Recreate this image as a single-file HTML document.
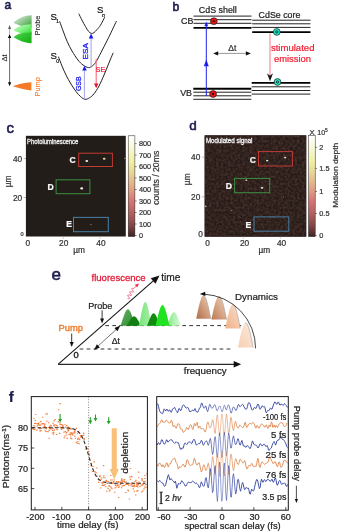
<!DOCTYPE html>
<html><head><meta charset="utf-8"><style>
html,body{margin:0;padding:0;background:#fff;width:342px;height:531px;overflow:hidden}
svg{display:block;font-family:"Liberation Sans", sans-serif;will-change:transform}
</style></head><body>
<svg width="342" height="531" viewBox="0 0 342 531">
<rect width="342" height="531" fill="#fff"/>
<defs>
<linearGradient id="cb" x1="0" y1="0" x2="0" y2="1"><stop offset="0.00" stop-color="#ffffff"/><stop offset="0.05" stop-color="#fcfcef"/><stop offset="0.10" stop-color="#f9f9df"/><stop offset="0.15" stop-color="#f6f6ce"/><stop offset="0.20" stop-color="#f3f3bb"/><stop offset="0.25" stop-color="#f1f1a7"/><stop offset="0.30" stop-color="#ede6a0"/><stop offset="0.35" stop-color="#ead99a"/><stop offset="0.40" stop-color="#e6cb94"/><stop offset="0.45" stop-color="#e3bc8e"/><stop offset="0.50" stop-color="#e0ac88"/><stop offset="0.55" stop-color="#dc9b82"/><stop offset="0.60" stop-color="#d9887b"/><stop offset="0.65" stop-color="#d57474"/><stop offset="0.70" stop-color="#c66c6c"/><stop offset="0.75" stop-color="#b76464"/><stop offset="0.80" stop-color="#a65a5a"/><stop offset="0.85" stop-color="#935050"/><stop offset="0.90" stop-color="#7d4444"/><stop offset="0.95" stop-color="#623535"/><stop offset="1.00" stop-color="#3c2121"/></linearGradient>
<linearGradient id="g1" x1="0" y1="0" x2="1" y2="1"><stop offset="0" stop-color="#e8f4e8"/><stop offset="0.6" stop-color="#7fbf7f"/><stop offset="1" stop-color="#2f9f2f"/></linearGradient>
<linearGradient id="g2" x1="0" y1="0" x2="1" y2="1"><stop offset="0" stop-color="#d8fcd8"/><stop offset="0.5" stop-color="#80f080"/><stop offset="1" stop-color="#22dd22"/></linearGradient>
<linearGradient id="g3" x1="0" y1="0" x2="1" y2="1"><stop offset="0" stop-color="#50d050"/><stop offset="1" stop-color="#10b010"/></linearGradient>
<linearGradient id="pump" x1="0" y1="0" x2="1" y2="0"><stop offset="0" stop-color="#f58030"/><stop offset="1" stop-color="#f07020"/></linearGradient>
<linearGradient id="br1" x1="0" y1="0" x2="1" y2="0"><stop offset="0" stop-color="#b8704a"/><stop offset="1" stop-color="#e8c0a8"/></linearGradient>
<linearGradient id="br2" x1="0" y1="0" x2="1" y2="0"><stop offset="0" stop-color="#c88060"/><stop offset="1" stop-color="#f0cdb8"/></linearGradient>
<linearGradient id="br3" x1="0" y1="0" x2="1" y2="0"><stop offset="0" stop-color="#eea884"/><stop offset="1" stop-color="#fbe0d0"/></linearGradient>
<linearGradient id="br4" x1="0" y1="0" x2="1" y2="0"><stop offset="0" stop-color="#f4c8ac"/><stop offset="1" stop-color="#fce8dc"/></linearGradient>
<filter id="noise" x="0" y="0" width="100%" height="100%" color-interpolation-filters="sRGB"><feTurbulence type="fractalNoise" baseFrequency="0.42" numOctaves="2" seed="3" result="t"/><feColorMatrix type="matrix" values="0 0 0 0 0.33  0 0 0 0 0.215  0 0 0 0 0.19  0 0 0 1.6 -0.5"/><feComposite in2="SourceGraphic" operator="in"/></filter>
</defs>
<text x="4.6" y="8.7" font-size="12.0" fill="#1b1b4d" text-anchor="start" font-weight="normal" stroke="#1b1b4d" stroke-width="0.6"  style="">a</text>
<path d="M31.6,15.3 C22.6,15.8 17.5,18.8 13.5,22.8 C18.5,25.3 23.6,27.5 31.6,27.5 Z" fill="url(#g1)"/>
<path d="M31.6,24.2 C22.6,24.7 17.5,26.2 13.5,30.2 C18.5,32.7 23.6,35.0 31.6,35.0 Z" fill="url(#g2)"/>
<path d="M31.6,32.2 C22.6,32.7 17.5,33.3 13.5,37.3 C18.5,39.8 23.6,43.2 31.6,43.2 Z" fill="url(#g3)"/>
<path d="M31.4,82.3 C24,82.6 17,84.5 12.9,86.3 C18,88 25,89.6 31.4,90.6 Z" fill="#f47a28"/>
<line x1="9.6" y1="27" x2="9.6" y2="34" stroke="#999" stroke-width="0.8" />
<line x1="9.6" y1="36" x2="9.6" y2="84" stroke="#444" stroke-width="0.8" />
<path d="M9.60,25.00 L11.20,29.00 L8.00,29.00 Z" fill="#666"/>
<path d="M9.60,34.00 L11.20,38.00 L8.00,38.00 Z" fill="#000"/>
<path d="M9.60,86.20 L8.00,82.20 L11.20,82.20 Z" fill="#000"/>
<text transform="translate(6.9,58.0) rotate(-90)" font-size="7.6" fill="#2a2a2a" text-anchor="middle" font-weight="normal" stroke="#2a2a2a" stroke-width="0.1" >Δt</text>
<text transform="translate(40.0,25.5) rotate(-90)" font-size="7.4" fill="#2a2a2a" text-anchor="middle" font-weight="normal" stroke="#2a2a2a" stroke-width="0.12" >Probe</text>
<text transform="translate(40.1,86.8) rotate(-90)" font-size="7.3" fill="#f47a28" text-anchor="middle" font-weight="normal" stroke="#f47a28" stroke-width="0.08" >Pump</text>
<path d="M59.60,21.40 C60.25,23.17 62.23,28.65 63.50,32.00 C64.77,35.35 65.78,38.33 67.20,41.50 C68.62,44.67 70.20,47.92 72.00,51.00 C73.80,54.08 76.17,57.67 78.00,60.00 C79.83,62.33 81.27,63.73 83.00,65.00 C84.73,66.27 86.90,67.40 88.40,67.60 C89.90,67.80 90.78,67.08 92.00,66.20 C93.22,65.32 94.20,64.58 95.70,62.30 C97.20,60.02 99.05,56.22 101.00,52.50 C102.95,48.78 105.57,43.67 107.40,40.00 C109.23,36.33 110.48,33.67 112.00,30.50 C113.52,27.33 115.75,22.58 116.50,21.00" fill="none" stroke="#222" stroke-width="1"/>
<path d="M58.40,56.60 C59.00,58.17 60.73,62.93 62.00,66.00 C63.27,69.07 64.50,72.00 66.00,75.00 C67.50,78.00 69.33,81.25 71.00,84.00 C72.67,86.75 74.42,89.42 76.00,91.50 C77.58,93.58 79.00,95.20 80.50,96.50 C82.00,97.80 83.50,99.08 85.00,99.30 C86.50,99.52 88.00,98.72 89.50,97.80 C91.00,96.88 92.42,95.77 94.00,93.80 C95.58,91.83 97.33,89.13 99.00,86.00 C100.67,82.87 102.42,78.67 104.00,75.00 C105.58,71.33 106.97,67.70 108.50,64.00 C110.03,60.30 112.42,54.67 113.20,52.80" fill="none" stroke="#222" stroke-width="1"/>
<path d="M78.80,13.70 C79.33,14.78 80.88,18.05 82.00,20.20 C83.12,22.35 84.42,24.75 85.50,26.60 C86.58,28.45 87.53,30.17 88.50,31.30 C89.47,32.43 90.38,33.18 91.30,33.40 C92.22,33.62 93.05,33.25 94.00,32.60 C94.95,31.95 95.92,30.73 97.00,29.50 C98.08,28.27 99.22,27.25 100.50,25.20 C101.78,23.15 104.00,18.53 104.70,17.20" fill="none" stroke="#222" stroke-width="1"/>
<text x="50.6" y="19.6" font-size="9.6" fill="#111" text-anchor="start" font-weight="normal" stroke="#111" stroke-width="0.22"  style="">S</text>
<text x="56.3" y="23.4" font-size="4.6" fill="#111" text-anchor="start" font-weight="normal" stroke="#111" stroke-width="0.22"  style="">1</text>
<text x="50.6" y="59.0" font-size="9.6" fill="#111" text-anchor="start" font-weight="normal" stroke="#111" stroke-width="0.22"  style="">S</text>
<text x="56.2" y="62.6" font-size="5" fill="#111" text-anchor="start" font-weight="normal" stroke="#111" stroke-width="0.22"  style="">0</text>
<text x="96.9" y="13.3" font-size="9.6" fill="#111" text-anchor="start" font-weight="normal" stroke="#111" stroke-width="0.22"  style="">S</text>
<text x="102" y="17.2" font-size="5.2" fill="#111" text-anchor="start" font-weight="normal" stroke="#111" stroke-width="0.22"  style="font-style:italic">n</text>
<line x1="84.4" y1="99.2" x2="84.4" y2="69" stroke="#a8a8f0" stroke-width="1.1" />
<path d="M84.50,65.80 L86.80,70.60 L82.20,70.60 Z" fill="#1a1ae6"/>
<line x1="91.1" y1="67.4" x2="91.1" y2="37" stroke="#a8a8f0" stroke-width="1.1" />
<path d="M91.10,33.60 L93.40,38.40 L88.80,38.40 Z" fill="#1a1ae6"/>
<line x1="96.2" y1="59" x2="96.2" y2="84" stroke="#f07080" stroke-width="1.1" />
<path d="M96.20,88.20 L94.00,83.40 L98.40,83.40 Z" fill="#e8102a"/>
<text transform="translate(78.9,83.8) rotate(-90)" font-size="7.0" fill="#2626f2" text-anchor="middle" font-weight="normal" stroke="#2626f2" stroke-width="0.3" dominant-baseline="middle" textLength="14.6" lengthAdjust="spacingAndGlyphs">GSB</text>
<text transform="translate(86.2,51.3) rotate(-90)" font-size="7.0" fill="#2626f2" text-anchor="middle" font-weight="normal" stroke="#2626f2" stroke-width="0.3" dominant-baseline="middle" textLength="16.2" lengthAdjust="spacingAndGlyphs">ESA</text>
<text x="95.6" y="71.5" font-size="7.3" fill="#f01e3c" text-anchor="start" font-weight="normal" stroke="#f01e3c" stroke-width="0.22"  style="">SE</text>
<text x="172.4" y="10.8" font-size="12.2" fill="#1b1b4d" text-anchor="start" font-weight="normal" stroke="#1b1b4d" stroke-width="0.6"  style="">b</text>
<text x="198.8" y="13.2" font-size="8.9" fill="#222" text-anchor="start" font-weight="normal" stroke="#222" stroke-width="0.22"  style="">CdS shell</text>
<text x="258.6" y="18.3" font-size="8.85" fill="#222" text-anchor="start" font-weight="normal" stroke="#222" stroke-width="0.22"  style="">CdSe core</text>
<line x1="193.5" y1="16.1" x2="251.5" y2="16.1" stroke="#222" stroke-width="1.0" />
<line x1="193.5" y1="19.7" x2="251.5" y2="19.7" stroke="#222" stroke-width="1.0" />
<line x1="193.5" y1="23.3" x2="251.5" y2="23.3" stroke="#222" stroke-width="1.0" />
<line x1="193.5" y1="27.9" x2="251.5" y2="27.9" stroke="#000" stroke-width="1.9" />
<line x1="252.2" y1="20.2" x2="310.5" y2="20.2" stroke="#222" stroke-width="1.0" />
<line x1="252.2" y1="23.8" x2="310.5" y2="23.8" stroke="#222" stroke-width="1.0" />
<line x1="252.2" y1="27.4" x2="310.5" y2="27.4" stroke="#222" stroke-width="1.0" />
<line x1="252.2" y1="32.1" x2="310.5" y2="32.1" stroke="#000" stroke-width="1.9" />
<text x="193.4" y="23.7" font-size="8.9" fill="#222" text-anchor="end" font-weight="normal" stroke="#222" stroke-width="0.22"  style="">CB</text>
<text x="192.0" y="96.0" font-size="8.9" fill="#222" text-anchor="end" font-weight="normal" stroke="#222" stroke-width="0.22"  style="">VB</text>
<line x1="193.3" y1="88.8" x2="251.3" y2="88.8" stroke="#000" stroke-width="1.9" />
<line x1="193.3" y1="92.2" x2="251.3" y2="92.2" stroke="#222" stroke-width="1.0" />
<line x1="193.3" y1="95.8" x2="251.3" y2="95.8" stroke="#222" stroke-width="1.0" />
<line x1="193.3" y1="99.3" x2="251.3" y2="99.3" stroke="#222" stroke-width="1.0" />
<line x1="251.7" y1="82.9" x2="310.3" y2="82.9" stroke="#000" stroke-width="1.9" />
<line x1="251.7" y1="86.8" x2="310.3" y2="86.8" stroke="#222" stroke-width="1.0" />
<line x1="251.7" y1="90.5" x2="310.3" y2="90.5" stroke="#222" stroke-width="1.0" />
<line x1="251.7" y1="94.1" x2="310.3" y2="94.1" stroke="#222" stroke-width="1.0" />
<line x1="206.3" y1="96" x2="206.3" y2="25" stroke="#2020ee" stroke-width="1.0" />
<path d="M206.30,21.50 L208.20,26.30 L204.40,26.30 Z" fill="#2020ee"/>
<path d="M206.30,59.60 L208.80,66.20 L203.80,66.20 Z" fill="#2020ee"/>
<circle cx="213.8" cy="21.2" r="3.4" fill="#ee1111" stroke="#222" stroke-width="0.7"/>
<ellipse cx="213.8" cy="21.2" rx="1.5" ry="0.8" fill="#111"/>
<circle cx="213.1" cy="94.0" r="3.4" fill="#ee1111" stroke="#222" stroke-width="0.7"/>
<circle cx="213.1" cy="94.0" r="1.1" fill="#111"/>
<circle cx="276.8" cy="31.9" r="3.4" fill="#22e8c8" stroke="#222" stroke-width="0.7"/>
<circle cx="276.8" cy="31.9" r="1.15" fill="none" stroke="#111" stroke-width="0.75"/>
<circle cx="277.5" cy="82.0" r="3.4" fill="#22e8c8" stroke="#222" stroke-width="0.7"/>
<circle cx="277.5" cy="82.0" r="1.15" fill="none" stroke="#111" stroke-width="0.75"/>
<line x1="216" y1="53.4" x2="248" y2="53.4" stroke="#999" stroke-width="1.0" />
<path d="M213.20,53.40 L218.20,51.20 L218.20,55.60 Z" fill="#111"/>
<path d="M250.90,53.40 L245.90,55.60 L245.90,51.20 Z" fill="#111"/>
<text x="228.2" y="50.8" font-size="8.6" fill="#333" text-anchor="start" font-weight="normal" stroke="#333" stroke-width="0.22"  style="">Δt</text>
<line x1="270.0" y1="33.5" x2="270.0" y2="76" stroke="#f7a0a8" stroke-width="1.4" />
<path d="M270.00,81.30 L267.00,73.30 L270.00,75.86 L273.00,73.30 Z" fill="#111"/>
<text x="292.7" y="51.0" font-size="9.55" fill="#f01e32" text-anchor="middle" font-weight="normal" stroke="#f01e32" stroke-width="0.22"  style="">stimulated</text>
<text x="292.5" y="61.5" font-size="9.4" fill="#f01e32" text-anchor="middle" font-weight="normal" stroke="#f01e32" stroke-width="0.22"  style="">emission</text>
<rect x="25.9" y="135.8" width="99.9" height="100.69999999999999" fill="#231d19"/>
<text x="27.099999999999998" y="143.60000000000002" font-size="6.3" fill="#f0f0f0" text-anchor="start" font-weight="normal" stroke="#f0f0f0" stroke-width="0.3" textLength="51.2" lengthAdjust="spacingAndGlyphs" style="">Photoluminescence</text>
<rect x="78.7" y="153.2" width="33.7" height="13.300000000000011" fill="none" stroke="#c23b33" stroke-width="1"/>
<rect x="56.1" y="179.8" width="33.800000000000004" height="13.899999999999977" fill="none" stroke="#3b8f3f" stroke-width="1"/>
<rect x="73.5" y="217.4" width="34.8" height="14.299999999999983" fill="none" stroke="#4a7fa6" stroke-width="1"/>
<text x="69.4" y="163.4" font-size="8.6" fill="#fafafa" text-anchor="start" font-weight="bold" stroke="#fafafa" stroke-width="0.22"  style="">C</text>
<text x="47.4" y="190.3" font-size="8.6" fill="#fafafa" text-anchor="start" font-weight="bold" stroke="#fafafa" stroke-width="0.22"  style="">D</text>
<text x="66.2" y="227.2" font-size="8.6" fill="#fafafa" text-anchor="start" font-weight="bold" stroke="#fafafa" stroke-width="0.22"  style="">E</text>
<ellipse cx="86.8" cy="161" rx="1.4" ry="0.9799999999999999" fill="#fbeee0"/>
<ellipse cx="104.2" cy="158.7" rx="1.4" ry="0.9799999999999999" fill="#f3d2b0"/>
<ellipse cx="81.7" cy="188.4" rx="1.5" ry="1.0499999999999998" fill="#fbf2e8"/>
<ellipse cx="90.9" cy="224.6" rx="0.8" ry="0.5599999999999999" fill="#b06060"/>
<ellipse cx="124.8" cy="158.2" rx="0.8" ry="0.5599999999999999" fill="#c09080"/>
<rect x="128.2" y="135.8" width="6.7" height="100.69999999999999" fill="url(#cb)" stroke="#222" stroke-width="0.5"/>
<line x1="134.89999999999998" y1="235.5" x2="136.7" y2="235.5" stroke="#333" stroke-width="0.6" />
<text x="139.0" y="238.1" font-size="7.3" fill="#333" text-anchor="start" font-weight="normal" stroke="#333" stroke-width="0.22"  style="">0</text>
<line x1="134.89999999999998" y1="224.0" x2="136.7" y2="224.0" stroke="#333" stroke-width="0.6" />
<text x="139.0" y="226.6" font-size="7.3" fill="#333" text-anchor="start" font-weight="normal" stroke="#333" stroke-width="0.22"  style="">100</text>
<line x1="134.89999999999998" y1="212.5" x2="136.7" y2="212.5" stroke="#333" stroke-width="0.6" />
<text x="139.0" y="215.1" font-size="7.3" fill="#333" text-anchor="start" font-weight="normal" stroke="#333" stroke-width="0.22"  style="">200</text>
<line x1="134.89999999999998" y1="201.0" x2="136.7" y2="201.0" stroke="#333" stroke-width="0.6" />
<text x="139.0" y="203.6" font-size="7.3" fill="#333" text-anchor="start" font-weight="normal" stroke="#333" stroke-width="0.22"  style="">300</text>
<line x1="134.89999999999998" y1="189.5" x2="136.7" y2="189.5" stroke="#333" stroke-width="0.6" />
<text x="139.0" y="192.1" font-size="7.3" fill="#333" text-anchor="start" font-weight="normal" stroke="#333" stroke-width="0.22"  style="">400</text>
<line x1="134.89999999999998" y1="178.0" x2="136.7" y2="178.0" stroke="#333" stroke-width="0.6" />
<text x="139.0" y="180.6" font-size="7.3" fill="#333" text-anchor="start" font-weight="normal" stroke="#333" stroke-width="0.22"  style="">500</text>
<line x1="134.89999999999998" y1="166.6" x2="136.7" y2="166.6" stroke="#333" stroke-width="0.6" />
<text x="139.0" y="169.2" font-size="7.3" fill="#333" text-anchor="start" font-weight="normal" stroke="#333" stroke-width="0.22"  style="">600</text>
<line x1="134.89999999999998" y1="155.1" x2="136.7" y2="155.1" stroke="#333" stroke-width="0.6" />
<text x="139.0" y="157.7" font-size="7.3" fill="#333" text-anchor="start" font-weight="normal" stroke="#333" stroke-width="0.22"  style="">700</text>
<line x1="134.89999999999998" y1="143.6" x2="136.7" y2="143.6" stroke="#333" stroke-width="0.6" />
<text x="139.0" y="146.2" font-size="7.3" fill="#333" text-anchor="start" font-weight="normal" stroke="#333" stroke-width="0.22"  style="">800</text>
<text x="6.6" y="132.6" font-size="15" fill="#1b1b4d" text-anchor="start" font-weight="normal" stroke="#1b1b4d" stroke-width="0.6"  style="">c</text>
<text x="22.2" y="161.5" font-size="8.3" fill="#333" text-anchor="end" font-weight="normal" stroke="#333" stroke-width="0.22"  style="">40</text>
<text x="22.2" y="200.5" font-size="8.3" fill="#333" text-anchor="end" font-weight="normal" stroke="#333" stroke-width="0.22"  style="">20</text>
<text x="23.6" y="236.3" font-size="5.6" fill="#333" text-anchor="end" font-weight="normal" stroke="#333" stroke-width="0.22"  style="">0</text>
<line x1="23.6" y1="158.6" x2="26" y2="158.6" stroke="#888" stroke-width="0.6" />
<line x1="23.6" y1="197.5" x2="26" y2="197.5" stroke="#888" stroke-width="0.6" />
<line x1="63.3" y1="236.5" x2="63.3" y2="238.8" stroke="#aaa" stroke-width="0.6" />
<line x1="100.1" y1="236.5" x2="100.1" y2="238.8" stroke="#aaa" stroke-width="0.6" />
<text x="27.7" y="245.5" font-size="8.3" fill="#333" text-anchor="middle" font-weight="normal" stroke="#333" stroke-width="0.22"  style="">0</text>
<text x="63.7" y="245.5" font-size="8.3" fill="#333" text-anchor="middle" font-weight="normal" stroke="#333" stroke-width="0.22"  style="">20</text>
<text x="100.9" y="245.5" font-size="8.3" fill="#333" text-anchor="middle" font-weight="normal" stroke="#333" stroke-width="0.22"  style="">40</text>
<text transform="translate(10.5,181.4) rotate(-90)" font-size="8.3" fill="#333" text-anchor="middle" font-weight="normal" stroke="#333" stroke-width="0.22" >µm</text>
<text x="79.2" y="252.6" font-size="8.3" fill="#333" text-anchor="middle" font-weight="normal" stroke="#333" stroke-width="0.22"  style="">µm</text>
<text transform="translate(159.0,177.8) rotate(-90)" font-size="8.7" fill="#333" text-anchor="middle" font-weight="normal" stroke="#333" stroke-width="0.22" >counts / 20ms</text>
<rect x="204.7" y="135.4" width="101.5" height="101.19999999999999" fill="#231d19"/>
<rect x="204.7" y="135.4" width="101.5" height="101.19999999999999" fill="#241b18"/>
<rect x="204.7" y="135.4" width="101.5" height="101.19999999999999" fill="#fff" filter="url(#noise)"/>
<text x="205.89999999999998" y="143.20000000000002" font-size="6.3" fill="#f0f0f0" text-anchor="start" font-weight="normal" stroke="#f0f0f0" stroke-width="0.3" textLength="46.6" lengthAdjust="spacingAndGlyphs" style="">Modulated signal</text>
<rect x="258.5" y="151.6" width="33.89999999999998" height="14.400000000000006" fill="none" stroke="#c23b33" stroke-width="1"/>
<rect x="234.6" y="178.4" width="35.099999999999994" height="14.299999999999983" fill="none" stroke="#3b8f3f" stroke-width="1"/>
<rect x="254" y="216.9" width="34.80000000000001" height="14.299999999999983" fill="none" stroke="#4a7fa6" stroke-width="1"/>
<text x="249.8" y="162.8" font-size="8.6" fill="#fafafa" text-anchor="start" font-weight="bold" stroke="#fafafa" stroke-width="0.22"  style="">C</text>
<text x="225.7" y="189.2" font-size="8.6" fill="#fafafa" text-anchor="start" font-weight="bold" stroke="#fafafa" stroke-width="0.22"  style="">D</text>
<text x="245.6" y="227.6" font-size="8.6" fill="#fafafa" text-anchor="start" font-weight="bold" stroke="#fafafa" stroke-width="0.22"  style="">E</text>
<ellipse cx="267.2" cy="160.5" rx="1.2" ry="0.84" fill="#fbe8d8"/>
<ellipse cx="285.2" cy="157.6" rx="1.2" ry="0.84" fill="#f3d8b8"/>
<ellipse cx="246.3" cy="180.3" rx="1.0" ry="0.7" fill="#f0d8c8"/>
<ellipse cx="262" cy="187.8" rx="1.3" ry="0.9099999999999999" fill="#fbeee0"/>
<ellipse cx="205.8" cy="206.2" rx="0.9" ry="0.63" fill="#e8d0c0"/>
<ellipse cx="231.4" cy="210.3" rx="0.7" ry="0.48999999999999994" fill="#c09080"/>
<ellipse cx="283.5" cy="197.1" rx="0.7" ry="0.48999999999999994" fill="#b08070"/>
<rect x="308.5" y="135.4" width="6.7" height="101.19999999999999" fill="url(#cb)" stroke="#222" stroke-width="0.5"/>
<line x1="315.2" y1="235.6" x2="317.0" y2="235.6" stroke="#333" stroke-width="0.6" />
<text x="319.3" y="238.2" font-size="7.3" fill="#333" text-anchor="start" font-weight="normal" stroke="#333" stroke-width="0.22"  style="">0</text>
<line x1="315.2" y1="213.5" x2="317.0" y2="213.5" stroke="#333" stroke-width="0.6" />
<text x="319.3" y="216.1" font-size="7.3" fill="#333" text-anchor="start" font-weight="normal" stroke="#333" stroke-width="0.22"  style="">0.5</text>
<line x1="315.2" y1="191.5" x2="317.0" y2="191.5" stroke="#333" stroke-width="0.6" />
<text x="319.3" y="194.1" font-size="7.3" fill="#333" text-anchor="start" font-weight="normal" stroke="#333" stroke-width="0.22"  style="">1</text>
<line x1="315.2" y1="168.4" x2="317.0" y2="168.4" stroke="#333" stroke-width="0.6" />
<text x="319.3" y="171.0" font-size="7.3" fill="#333" text-anchor="start" font-weight="normal" stroke="#333" stroke-width="0.22"  style="">1.5</text>
<line x1="315.2" y1="147.3" x2="317.0" y2="147.3" stroke="#333" stroke-width="0.6" />
<text x="319.3" y="149.9" font-size="7.3" fill="#333" text-anchor="start" font-weight="normal" stroke="#333" stroke-width="0.22"  style="">2</text>
<text x="189.2" y="130.0" font-size="13.5" fill="#1b1b4d" text-anchor="start" font-weight="normal" stroke="#1b1b4d" stroke-width="0.55"  style="">d</text>
<text x="200.3" y="160.2" font-size="8.3" fill="#333" text-anchor="end" font-weight="normal" stroke="#333" stroke-width="0.22"  style="">40</text>
<text x="200.3" y="199.8" font-size="8.3" fill="#333" text-anchor="end" font-weight="normal" stroke="#333" stroke-width="0.22"  style="">20</text>
<text x="202.8" y="237.2" font-size="8.3" fill="#333" text-anchor="end" font-weight="normal" stroke="#333" stroke-width="0.22"  style="">0</text>
<line x1="202" y1="157.2" x2="204.6" y2="157.2" stroke="#888" stroke-width="0.6" />
<line x1="202" y1="196.8" x2="204.6" y2="196.8" stroke="#888" stroke-width="0.6" />
<line x1="243.3" y1="236.6" x2="243.3" y2="238.8" stroke="#aaa" stroke-width="0.6" />
<line x1="280.3" y1="236.6" x2="280.3" y2="238.8" stroke="#aaa" stroke-width="0.6" />
<text x="207.6" y="245.5" font-size="8.3" fill="#333" text-anchor="middle" font-weight="normal" stroke="#333" stroke-width="0.22"  style="">0</text>
<text x="244.5" y="245.5" font-size="8.3" fill="#333" text-anchor="middle" font-weight="normal" stroke="#333" stroke-width="0.22"  style="">20</text>
<text x="281.5" y="245.5" font-size="8.3" fill="#333" text-anchor="middle" font-weight="normal" stroke="#333" stroke-width="0.22"  style="">40</text>
<text transform="translate(189.5,179.3) rotate(-90)" font-size="8.3" fill="#333" text-anchor="middle" font-weight="normal" stroke="#333" stroke-width="0.22" >µm</text>
<text x="264.4" y="252.6" font-size="8.3" fill="#333" text-anchor="middle" font-weight="normal" stroke="#333" stroke-width="0.22"  style="">µm</text>
<text x="309.6" y="135.0" font-size="7.6" fill="#333" text-anchor="start" font-weight="normal" stroke="#333" stroke-width="0.22"  style="">X</text>
<text x="317.3" y="135.0" font-size="7.0" fill="#333" text-anchor="start" font-weight="normal" stroke="#333" stroke-width="0.22"  style="">10</text>
<text x="325.0" y="132.0" font-size="4.8" fill="#333" text-anchor="start" font-weight="normal" stroke="#333" stroke-width="0.22"  style="">5</text>
<text transform="translate(338.2,175.3) rotate(-90)" font-size="7.8" fill="#333" text-anchor="middle" font-weight="normal" stroke="#333" stroke-width="0.22" textLength="65" lengthAdjust="spacingAndGlyphs">Modulation depth</text>
<text x="51.5" y="279.9" font-size="17" fill="#1b1b4d" text-anchor="start" font-weight="normal" stroke="#1b1b4d" stroke-width="0.6"  style="">e</text>
<line x1="105.3" y1="325.6" x2="241.2" y2="325.6" stroke="#333" stroke-width="1.0" stroke-dasharray="3.7,3.3"/>
<line x1="79.6" y1="349.0" x2="232" y2="349.0" stroke="#333" stroke-width="1.0" stroke-dasharray="3.7,3.3"/>
<linearGradient id="gp1" x1="0" y1="0" x2="1" y2="1"><stop offset="0" stop-color="#62b262"/><stop offset="1" stop-color="#2a8a2a"/></linearGradient>
<linearGradient id="gp3" x1="0" y1="0" x2="1" y2="0"><stop offset="0" stop-color="#78e478"/><stop offset="1" stop-color="#a8f0a8"/></linearGradient>
<linearGradient id="gp6" x1="0" y1="0" x2="1" y2="0"><stop offset="0" stop-color="#7ee87e"/><stop offset="1" stop-color="#e0fae0"/></linearGradient>
<path d="M120.30,325.80 L120.93,324.51 L121.57,322.75 L122.20,320.83 L122.83,318.86 L123.47,316.93 L124.10,315.10 L124.73,313.45 L125.37,312.02 L126.00,310.85 L126.63,310.00 L127.27,309.48 L127.90,309.30 L128.53,309.48 L129.17,310.00 L129.80,310.85 L130.43,312.02 L131.07,313.45 L131.70,315.10 L132.33,316.93 L132.97,318.86 L133.60,320.83 L134.23,322.75 L134.87,324.51 L135.50,325.80 Z" fill="url(#gp1)" stroke="none" stroke-width="0"/>
<path d="M126.60,325.80 L127.22,325.05 L127.83,324.05 L128.45,322.94 L129.07,321.81 L129.68,320.69 L130.30,319.64 L130.92,318.69 L131.53,317.86 L132.15,317.20 L132.77,316.70 L133.38,316.40 L134.00,316.30 L134.62,316.40 L135.23,316.70 L135.85,317.20 L136.47,317.86 L137.08,318.69 L137.70,319.64 L138.32,320.69 L138.93,321.81 L139.55,322.94 L140.17,324.05 L140.78,325.05 L141.40,325.80 Z" fill="#127f12" stroke="none" stroke-width="0"/>
<path d="M138.70,325.80 L139.25,323.93 L139.80,321.41 L140.35,318.64 L140.90,315.79 L141.45,313.00 L142.00,310.37 L142.55,307.98 L143.10,305.92 L143.65,304.24 L144.20,303.01 L144.75,302.25 L145.30,302.00 L145.85,302.25 L146.40,303.01 L146.95,304.24 L147.50,305.92 L148.05,307.98 L148.60,310.37 L149.15,313.00 L149.70,315.79 L150.25,318.64 L150.80,321.41 L151.35,323.93 L151.90,325.80 Z" fill="url(#gp3)" stroke="none" stroke-width="0"/>
<path d="M146.80,325.80 L147.37,324.82 L147.93,323.49 L148.50,322.04 L149.07,320.54 L149.63,319.08 L150.20,317.69 L150.77,316.44 L151.33,315.36 L151.90,314.48 L152.47,313.83 L153.03,313.43 L153.60,313.30 L154.17,313.43 L154.73,313.83 L155.30,314.48 L155.87,315.36 L156.43,316.44 L157.00,317.69 L157.57,319.08 L158.13,320.54 L158.70,322.04 L159.27,323.49 L159.83,324.82 L160.40,325.80 Z" fill="#0f8c0f" stroke="none" stroke-width="0"/>
<path d="M166.60,325.80 L167.22,324.74 L167.83,323.31 L168.45,321.74 L169.07,320.12 L169.68,318.54 L170.30,317.05 L170.92,315.69 L171.53,314.52 L172.15,313.57 L172.77,312.87 L173.38,312.44 L174.00,312.30 L174.62,312.44 L175.23,312.87 L175.85,313.57 L176.47,314.52 L177.08,315.69 L177.70,317.05 L178.32,318.54 L178.93,320.12 L179.55,321.74 L180.17,323.31 L180.78,324.74 L181.40,325.80 Z" fill="url(#gp6)" stroke="none" stroke-width="0"/>
<path d="M155.20,325.80 L155.81,324.17 L156.42,321.96 L157.02,319.54 L157.63,317.05 L158.24,314.62 L158.85,312.31 L159.46,310.23 L160.07,308.42 L160.67,306.96 L161.28,305.88 L161.89,305.22 L162.50,305.00 L163.11,305.22 L163.72,305.88 L164.32,306.96 L164.93,308.42 L165.54,310.23 L166.15,312.31 L166.76,314.62 L167.37,317.05 L167.97,319.54 L168.58,321.96 L169.19,324.17 L169.80,325.80 Z" fill="#22e322" stroke="none" stroke-width="0"/>
<linearGradient id="bp1" x1="0" y1="1" x2="1" y2="0"><stop offset="0" stop-color="#b06c46"/><stop offset="1" stop-color="#f0d0b8"/></linearGradient>
<linearGradient id="bp2" x1="0" y1="1" x2="1" y2="0"><stop offset="0" stop-color="#bc7852"/><stop offset="1" stop-color="#f3d6c2"/></linearGradient>
<linearGradient id="bp3" x1="0" y1="1" x2="1" y2="0"><stop offset="0" stop-color="#f0b088"/><stop offset="1" stop-color="#fbe0cc"/></linearGradient>
<linearGradient id="bp4" x1="0" y1="1" x2="1" y2="0"><stop offset="0" stop-color="#f6cfb4"/><stop offset="1" stop-color="#fdeadc"/></linearGradient>
<path d="M196.20,318.80 L196.81,315.77 L197.42,312.80 L198.02,309.92 L198.63,307.20 L199.24,304.68 L199.85,302.40 L200.46,300.39 L201.07,298.71 L201.67,297.37 L202.28,296.39 L202.89,295.80 L203.50,295.60 L204.11,295.80 L204.72,296.39 L205.32,297.37 L205.93,298.71 L206.54,300.39 L207.15,302.40 L207.76,304.68 L208.37,307.20 L208.97,309.92 L209.58,312.80 L210.19,315.77 L210.80,318.80 Z" fill="url(#bp1)"/>
<path d="M202.89,295.80 L203.50,295.60 L204.11,295.80 L204.72,296.39 L205.32,297.37 L205.93,298.71 L206.54,300.39 L207.15,302.40 L207.76,304.68 L208.37,307.20 L208.97,309.92 L209.58,312.80 L210.19,315.77 L210.80,318.80" fill="none" stroke="#9a9a9a" stroke-width="0.6"/>
<path d="M211.40,319.60 L212.03,316.56 L212.67,313.57 L213.30,310.68 L213.93,307.95 L214.57,305.42 L215.20,303.12 L215.83,301.11 L216.47,299.42 L217.10,298.07 L217.73,297.09 L218.37,296.50 L219.00,296.30 L219.63,296.50 L220.27,297.09 L220.90,298.07 L221.53,299.42 L222.17,301.11 L222.80,303.12 L223.43,305.42 L224.07,307.95 L224.70,310.68 L225.33,313.57 L225.97,316.56 L226.60,319.60 Z" fill="url(#bp2)"/>
<path d="M218.37,296.50 L219.00,296.30 L219.63,296.50 L220.27,297.09 L220.90,298.07 L221.53,299.42 L222.17,301.11 L222.80,303.12 L223.43,305.42 L224.07,307.95 L224.70,310.68 L225.33,313.57 L225.97,316.56 L226.60,319.60" fill="none" stroke="#9a9a9a" stroke-width="0.6"/>
<path d="M225.30,328.40 L225.93,325.27 L226.55,322.19 L227.18,319.22 L227.80,316.40 L228.43,313.79 L229.05,311.43 L229.68,309.36 L230.30,307.62 L230.93,306.23 L231.55,305.22 L232.18,304.61 L232.80,304.40 L233.43,304.61 L234.05,305.22 L234.68,306.23 L235.30,307.62 L235.93,309.36 L236.55,311.43 L237.18,313.79 L237.80,316.40 L238.43,319.22 L239.05,322.19 L239.68,325.27 L240.30,328.40 Z" fill="url(#bp3)"/>
<path d="M232.18,304.61 L232.80,304.40 L233.43,304.61 L234.05,305.22 L234.68,306.23 L235.30,307.62 L235.93,309.36 L236.55,311.43 L237.18,313.79 L237.80,316.40 L238.43,319.22 L239.05,322.19 L239.68,325.27 L240.30,328.40" fill="none" stroke="#9a9a9a" stroke-width="0.6"/>
<path d="M238.00,347.60 L238.63,344.38 L239.27,341.21 L239.90,338.15 L240.53,335.25 L241.17,332.56 L241.80,330.13 L242.43,328.00 L243.07,326.21 L243.70,324.78 L244.33,323.74 L244.97,323.11 L245.60,322.90 L246.23,323.11 L246.87,323.74 L247.50,324.78 L248.13,326.21 L248.77,328.00 L249.40,330.13 L250.03,332.56 L250.67,335.25 L251.30,338.15 L251.93,341.21 L252.57,344.38 L253.20,347.60 Z" fill="url(#bp4)"/>
<path d="M244.97,323.11 L245.60,322.90 L246.23,323.11 L246.87,323.74 L247.50,324.78 L248.13,326.21 L248.77,328.00 L249.40,330.13 L250.03,332.56 L250.67,335.25 L251.30,338.15 L251.93,341.21 L252.57,344.38 L253.20,347.60" fill="none" stroke="#9a9a9a" stroke-width="0.6"/>
<path d="M255.60,348.40 A54.3,54.3 0 0 0 203.80,294.15" fill="none" stroke="#333" stroke-width="0.9"/>
<path d="M199.80,294.10 L205.18,291.63 L205.40,296.02 Z" fill="#111"/>
<text x="235.0" y="300.0" font-size="9.8" fill="#222" text-anchor="start" font-weight="normal" stroke="#222" stroke-width="0.22"  style="">Dynamics</text>
<line x1="58.3" y1="364.2" x2="155.0" y2="279.4" stroke="#111" stroke-width="1.05" />
<path d="M159.50,275.40 L155.48,283.71 L150.74,278.30 Z" fill="#111"/>
<line x1="58.0" y1="364.3" x2="234" y2="364.3" stroke="#2a2a2a" stroke-width="1.2" />
<path d="M241.20,364.20 L233.70,367.40 L233.70,361.00 Z" fill="#111"/>
<text x="161.2" y="281.0" font-size="10.2" fill="#222" text-anchor="start" font-weight="normal" stroke="#222" stroke-width="0.22"  style="">time</text>
<text x="205.2" y="373.8" font-size="9.8" fill="#222" text-anchor="middle" font-weight="normal" stroke="#222" stroke-width="0.22"  style="">frequency</text>
<text x="118.6" y="280.5" font-size="9.55" fill="#e41c3a" text-anchor="middle" font-weight="normal" stroke="#e41c3a" stroke-width="0.3"  style="">fluorescence</text>
<path d="M127.60,298.60 L128.65,298.76 L129.37,298.74 L129.57,298.40 L129.25,297.75 L128.60,296.92 L127.95,296.08 L127.63,295.43 L127.83,295.10 L128.55,295.07 L129.60,295.23 L130.65,295.40 L131.37,295.37 L131.57,295.03 L131.25,294.39 L130.60,293.55 L129.95,292.71 L129.63,292.07 L129.83,291.73 L130.55,291.70 L131.60,291.87 L132.65,292.03 L133.37,292.00 L133.57,291.67 L133.25,291.02 L132.60,290.18 L131.95,289.35 L131.63,288.70 L131.83,288.36 L132.55,288.34 L133.60,288.50" fill="none" stroke="#f25478" stroke-width="0.85"/>
<line x1="133.6" y1="288.5" x2="136.5" y2="286.0" stroke="#f0506e" stroke-width="0.8" />
<path d="M139.00,283.60 L137.12,287.56 L134.79,284.82 Z" fill="#ee2a4a"/>
<text x="100.3" y="308.7" font-size="9.1" fill="#222" text-anchor="middle" font-weight="normal" stroke="#222" stroke-width="0.22"  style="">Probe</text>
<line x1="102.1" y1="310.3" x2="102.1" y2="319" stroke="#222" stroke-width="0.9" />
<path d="M102.10,323.40 L100.10,318.40 L104.10,318.40 Z" fill="#111"/>
<text x="70.7" y="330.5" font-size="9.4" fill="#f07420" text-anchor="middle" font-weight="normal" stroke="#f07420" stroke-width="0.3"  style="">Pump</text>
<line x1="71.7" y1="333.5" x2="71.7" y2="342.5" stroke="#222" stroke-width="0.9" />
<path d="M71.70,346.90 L69.70,341.90 L73.70,341.90 Z" fill="#111"/>
<text x="76.0" y="357.6" font-size="8.2" fill="#222" text-anchor="middle" font-weight="normal" stroke="#222" stroke-width="0.35" textLength="5.2" lengthAdjust="spacingAndGlyphs" style="">0</text>
<line x1="97" y1="347" x2="117.5" y2="328.3" stroke="#555" stroke-width="0.8" />
<path d="M94.00,350.00 L96.87,344.29 L99.88,347.50 Z" fill="#111"/>
<path d="M120.30,325.60 L117.43,331.31 L114.42,328.10 Z" fill="#111"/>
<text x="115.9" y="344.4" font-size="8.8" fill="#222" text-anchor="middle" font-weight="normal" stroke="#222" stroke-width="0.22"  style="">Δt</text>
<text x="8.8" y="401.6" font-size="15" fill="#1b1b4d" text-anchor="start" font-weight="bold" stroke="#1b1b4d" stroke-width="0.22"  style="">f</text>
<line x1="88.60" y1="396.6" x2="88.60" y2="509.9" stroke="#777" stroke-width="0.9" stroke-dasharray="1,1.6"/>
<path d="M33.3,418.2h1.4v1.1h-1.4zM32.8,425.2h1.4v1.1h-1.4zM32.6,428.9h1.4v1.1h-1.4zM32.3,427.9h1.4v1.1h-1.4zM34.0,423.0h1.4v1.1h-1.4zM34.0,428.8h1.4v1.1h-1.4zM34.9,413.9h1.4v1.1h-1.4zM34.1,425.4h1.4v1.1h-1.4zM34.8,419.9h1.4v1.1h-1.4zM34.8,422.8h1.4v1.1h-1.4zM36.5,422.9h1.4v1.1h-1.4zM36.6,425.3h1.4v1.1h-1.4zM36.1,429.4h1.4v1.1h-1.4zM36.2,429.6h1.4v1.1h-1.4zM36.7,423.3h1.4v1.1h-1.4zM37.8,423.5h1.4v1.1h-1.4zM38.2,427.4h1.4v1.1h-1.4zM38.1,424.5h1.4v1.1h-1.4zM39.1,424.6h1.4v1.1h-1.4zM38.0,422.6h1.4v1.1h-1.4zM39.4,430.6h1.4v1.1h-1.4zM40.0,421.1h1.4v1.1h-1.4zM39.4,424.8h1.4v1.1h-1.4zM39.1,428.3h1.4v1.1h-1.4zM40.4,427.9h1.4v1.1h-1.4zM40.4,429.9h1.4v1.1h-1.4zM41.8,423.3h1.4v1.1h-1.4zM40.7,423.4h1.4v1.1h-1.4zM42.4,423.1h1.4v1.1h-1.4zM41.8,427.2h1.4v1.1h-1.4zM41.9,416.7h1.4v1.1h-1.4zM41.9,423.1h1.4v1.1h-1.4zM43.5,425.8h1.4v1.1h-1.4zM42.7,423.2h1.4v1.1h-1.4zM44.5,430.2h1.4v1.1h-1.4zM43.0,427.1h1.4v1.1h-1.4zM44.2,423.3h1.4v1.1h-1.4zM43.8,424.5h1.4v1.1h-1.4zM45.3,413.5h1.4v1.1h-1.4zM44.4,425.9h1.4v1.1h-1.4zM46.2,420.7h1.4v1.1h-1.4zM45.6,428.1h1.4v1.1h-1.4zM45.4,430.8h1.4v1.1h-1.4zM46.5,413.3h1.4v1.1h-1.4zM47.6,427.0h1.4v1.1h-1.4zM47.2,431.1h1.4v1.1h-1.4zM48.4,437.7h1.4v1.1h-1.4zM48.0,422.2h1.4v1.1h-1.4zM48.6,426.4h1.4v1.1h-1.4zM49.0,427.4h1.4v1.1h-1.4zM49.1,425.7h1.4v1.1h-1.4zM48.5,429.8h1.4v1.1h-1.4zM49.6,428.4h1.4v1.1h-1.4zM50.0,427.6h1.4v1.1h-1.4zM50.4,425.3h1.4v1.1h-1.4zM50.2,424.7h1.4v1.1h-1.4zM51.9,430.0h1.4v1.1h-1.4zM51.5,428.4h1.4v1.1h-1.4zM52.4,422.6h1.4v1.1h-1.4zM51.9,432.4h1.4v1.1h-1.4zM52.9,431.8h1.4v1.1h-1.4zM53.1,425.1h1.4v1.1h-1.4zM52.4,427.9h1.4v1.1h-1.4zM53.1,424.4h1.4v1.1h-1.4zM53.5,420.1h1.4v1.1h-1.4zM52.8,433.6h1.4v1.1h-1.4zM54.1,426.4h1.4v1.1h-1.4zM53.6,429.6h1.4v1.1h-1.4zM54.5,418.9h1.4v1.1h-1.4zM54.2,424.3h1.4v1.1h-1.4zM56.1,428.7h1.4v1.1h-1.4zM55.9,433.9h1.4v1.1h-1.4zM56.1,425.1h1.4v1.1h-1.4zM55.7,424.8h1.4v1.1h-1.4zM56.9,426.6h1.4v1.1h-1.4zM56.6,429.2h1.4v1.1h-1.4zM57.9,409.2h1.4v1.1h-1.4zM57.5,421.1h1.4v1.1h-1.4zM58.9,432.8h1.4v1.1h-1.4zM59.0,422.2h1.4v1.1h-1.4zM59.4,423.8h1.4v1.1h-1.4zM59.3,420.0h1.4v1.1h-1.4zM59.5,403.1h1.4v1.1h-1.4zM59.2,426.5h1.4v1.1h-1.4zM60.2,427.3h1.4v1.1h-1.4zM60.8,424.1h1.4v1.1h-1.4zM61.5,427.3h1.4v1.1h-1.4zM60.7,428.9h1.4v1.1h-1.4zM62.2,425.3h1.4v1.1h-1.4zM62.1,424.4h1.4v1.1h-1.4zM62.2,426.4h1.4v1.1h-1.4zM62.3,428.2h1.4v1.1h-1.4zM63.6,437.2h1.4v1.1h-1.4zM63.3,431.6h1.4v1.1h-1.4zM65.0,426.6h1.4v1.1h-1.4zM64.4,424.2h1.4v1.1h-1.4zM64.1,435.4h1.4v1.1h-1.4zM64.8,430.9h1.4v1.1h-1.4zM65.8,434.4h1.4v1.1h-1.4zM65.5,432.3h1.4v1.1h-1.4zM66.0,425.0h1.4v1.1h-1.4zM66.0,432.0h1.4v1.1h-1.4zM66.4,437.8h1.4v1.1h-1.4zM67.6,430.3h1.4v1.1h-1.4zM67.0,428.6h1.4v1.1h-1.4zM67.1,430.5h1.4v1.1h-1.4zM67.4,426.4h1.4v1.1h-1.4zM67.6,427.4h1.4v1.1h-1.4zM68.4,434.0h1.4v1.1h-1.4zM68.0,429.6h1.4v1.1h-1.4zM69.6,433.7h1.4v1.1h-1.4zM69.6,434.2h1.4v1.1h-1.4zM69.3,428.3h1.4v1.1h-1.4zM70.3,437.9h1.4v1.1h-1.4zM69.7,427.8h1.4v1.1h-1.4zM69.7,432.3h1.4v1.1h-1.4zM70.0,436.5h1.4v1.1h-1.4zM70.9,428.3h1.4v1.1h-1.4zM71.8,434.4h1.4v1.1h-1.4zM71.0,438.2h1.4v1.1h-1.4zM71.1,432.3h1.4v1.1h-1.4zM71.1,433.4h1.4v1.1h-1.4zM72.0,433.3h1.4v1.1h-1.4zM73.1,432.4h1.4v1.1h-1.4zM74.1,429.4h1.4v1.1h-1.4zM73.8,431.1h1.4v1.1h-1.4zM74.2,435.6h1.4v1.1h-1.4zM74.3,432.3h1.4v1.1h-1.4zM74.7,437.7h1.4v1.1h-1.4zM74.3,430.7h1.4v1.1h-1.4zM75.8,427.8h1.4v1.1h-1.4zM75.7,441.7h1.4v1.1h-1.4zM76.6,442.8h1.4v1.1h-1.4zM76.8,433.2h1.4v1.1h-1.4zM77.6,432.0h1.4v1.1h-1.4zM77.2,441.0h1.4v1.1h-1.4zM77.0,438.6h1.4v1.1h-1.4zM77.7,430.9h1.4v1.1h-1.4zM77.7,437.5h1.4v1.1h-1.4zM78.4,443.1h1.4v1.1h-1.4zM78.6,438.8h1.4v1.1h-1.4zM79.0,439.2h1.4v1.1h-1.4zM79.7,435.1h1.4v1.1h-1.4zM80.2,436.9h1.4v1.1h-1.4zM80.4,435.7h1.4v1.1h-1.4zM81.6,434.9h1.4v1.1h-1.4zM83.0,432.8h1.4v1.1h-1.4zM83.4,438.9h1.4v1.1h-1.4zM82.9,434.8h1.4v1.1h-1.4zM83.4,438.1h1.4v1.1h-1.4zM84.8,448.4h1.4v1.1h-1.4zM85.7,446.2h1.4v1.1h-1.4zM85.7,447.4h1.4v1.1h-1.4zM87.0,448.1h1.4v1.1h-1.4zM88.0,450.7h1.4v1.1h-1.4zM88.7,454.8h1.4v1.1h-1.4zM88.7,453.4h1.4v1.1h-1.4zM89.5,459.4h1.4v1.1h-1.4zM90.7,463.3h1.4v1.1h-1.4zM90.4,465.1h1.4v1.1h-1.4zM91.8,470.9h1.4v1.1h-1.4zM92.3,465.9h1.4v1.1h-1.4zM93.6,461.3h1.4v1.1h-1.4zM94.4,471.3h1.4v1.1h-1.4zM94.8,474.7h1.4v1.1h-1.4zM95.5,472.2h1.4v1.1h-1.4zM96.7,475.7h1.4v1.1h-1.4zM96.2,467.4h1.4v1.1h-1.4zM97.5,478.9h1.4v1.1h-1.4zM98.2,479.4h1.4v1.1h-1.4zM98.1,481.8h1.4v1.1h-1.4zM99.0,476.2h1.4v1.1h-1.4zM99.6,475.2h1.4v1.1h-1.4zM99.0,475.5h1.4v1.1h-1.4zM100.3,479.1h1.4v1.1h-1.4zM99.8,487.5h1.4v1.1h-1.4zM100.6,477.5h1.4v1.1h-1.4zM101.4,482.5h1.4v1.1h-1.4zM101.5,484.7h1.4v1.1h-1.4zM101.7,482.6h1.4v1.1h-1.4zM101.4,482.0h1.4v1.1h-1.4zM102.0,482.5h1.4v1.1h-1.4zM102.0,485.0h1.4v1.1h-1.4zM102.6,477.2h1.4v1.1h-1.4zM102.9,465.1h1.4v1.1h-1.4zM102.6,484.6h1.4v1.1h-1.4zM103.1,475.3h1.4v1.1h-1.4zM103.3,484.9h1.4v1.1h-1.4zM104.3,483.9h1.4v1.1h-1.4zM104.2,480.7h1.4v1.1h-1.4zM105.6,479.8h1.4v1.1h-1.4zM104.2,477.2h1.4v1.1h-1.4zM105.9,490.7h1.4v1.1h-1.4zM105.0,486.2h1.4v1.1h-1.4zM106.7,481.4h1.4v1.1h-1.4zM105.7,481.0h1.4v1.1h-1.4zM106.7,482.9h1.4v1.1h-1.4zM107.5,487.8h1.4v1.1h-1.4zM108.5,485.3h1.4v1.1h-1.4zM107.8,480.9h1.4v1.1h-1.4zM108.3,484.9h1.4v1.1h-1.4zM108.7,490.3h1.4v1.1h-1.4zM110.0,479.4h1.4v1.1h-1.4zM109.3,489.3h1.4v1.1h-1.4zM109.5,486.2h1.4v1.1h-1.4zM110.9,481.4h1.4v1.1h-1.4zM110.3,482.1h1.4v1.1h-1.4zM110.0,474.9h1.4v1.1h-1.4zM110.7,486.7h1.4v1.1h-1.4zM111.2,487.9h1.4v1.1h-1.4zM111.5,479.4h1.4v1.1h-1.4zM111.5,482.8h1.4v1.1h-1.4zM112.4,482.8h1.4v1.1h-1.4zM113.2,481.0h1.4v1.1h-1.4zM112.9,481.6h1.4v1.1h-1.4zM114.0,491.7h1.4v1.1h-1.4zM113.5,479.4h1.4v1.1h-1.4zM114.6,484.3h1.4v1.1h-1.4zM114.4,487.3h1.4v1.1h-1.4zM115.0,484.9h1.4v1.1h-1.4zM115.7,486.5h1.4v1.1h-1.4zM115.4,482.7h1.4v1.1h-1.4zM116.4,484.4h1.4v1.1h-1.4zM116.0,480.9h1.4v1.1h-1.4zM117.1,485.2h1.4v1.1h-1.4zM117.2,483.7h1.4v1.1h-1.4zM117.9,480.9h1.4v1.1h-1.4zM117.5,481.9h1.4v1.1h-1.4zM117.9,497.0h1.4v1.1h-1.4zM118.0,486.8h1.4v1.1h-1.4zM119.1,482.2h1.4v1.1h-1.4zM118.5,485.4h1.4v1.1h-1.4zM119.6,483.8h1.4v1.1h-1.4zM120.2,482.0h1.4v1.1h-1.4zM120.4,480.6h1.4v1.1h-1.4zM121.0,478.3h1.4v1.1h-1.4zM120.8,487.2h1.4v1.1h-1.4zM121.2,479.5h1.4v1.1h-1.4zM121.8,481.6h1.4v1.1h-1.4zM121.5,485.5h1.4v1.1h-1.4zM122.6,485.1h1.4v1.1h-1.4zM121.9,480.4h1.4v1.1h-1.4zM123.5,479.1h1.4v1.1h-1.4zM123.7,484.8h1.4v1.1h-1.4zM123.9,479.0h1.4v1.1h-1.4zM123.4,480.4h1.4v1.1h-1.4zM123.9,481.2h1.4v1.1h-1.4zM124.3,482.0h1.4v1.1h-1.4zM125.1,492.0h1.4v1.1h-1.4zM125.4,481.5h1.4v1.1h-1.4zM125.4,483.8h1.4v1.1h-1.4zM126.3,483.0h1.4v1.1h-1.4zM126.1,483.8h1.4v1.1h-1.4zM126.6,483.7h1.4v1.1h-1.4zM127.3,489.4h1.4v1.1h-1.4zM126.3,483.7h1.4v1.1h-1.4zM127.6,490.5h1.4v1.1h-1.4zM127.9,484.3h1.4v1.1h-1.4zM128.0,484.7h1.4v1.1h-1.4zM128.7,498.4h1.4v1.1h-1.4zM129.3,483.2h1.4v1.1h-1.4zM129.7,478.8h1.4v1.1h-1.4zM129.0,476.7h1.4v1.1h-1.4zM129.7,467.9h1.4v1.1h-1.4zM131.1,484.0h1.4v1.1h-1.4zM130.5,475.8h1.4v1.1h-1.4zM130.4,485.1h1.4v1.1h-1.4zM131.3,476.2h1.4v1.1h-1.4zM130.8,482.5h1.4v1.1h-1.4zM132.0,482.4h1.4v1.1h-1.4zM131.9,486.0h1.4v1.1h-1.4zM132.6,488.3h1.4v1.1h-1.4zM132.3,485.2h1.4v1.1h-1.4zM132.0,482.9h1.4v1.1h-1.4zM133.4,486.1h1.4v1.1h-1.4zM133.5,484.6h1.4v1.1h-1.4zM133.6,490.7h1.4v1.1h-1.4zM134.0,485.6h1.4v1.1h-1.4zM135.0,494.4h1.4v1.1h-1.4zM134.3,481.0h1.4v1.1h-1.4zM135.2,479.8h1.4v1.1h-1.4zM135.8,485.7h1.4v1.1h-1.4zM136.1,484.5h1.4v1.1h-1.4zM136.1,490.6h1.4v1.1h-1.4zM136.2,481.7h1.4v1.1h-1.4zM136.1,482.6h1.4v1.1h-1.4zM136.4,485.8h1.4v1.1h-1.4zM136.3,483.7h1.4v1.1h-1.4zM137.8,471.6h1.4v1.1h-1.4zM137.7,484.4h1.4v1.1h-1.4zM137.1,490.1h1.4v1.1h-1.4zM137.1,486.4h1.4v1.1h-1.4zM138.1,477.2h1.4v1.1h-1.4zM137.7,483.3h1.4v1.1h-1.4zM139.4,485.9h1.4v1.1h-1.4zM138.5,481.4h1.4v1.1h-1.4zM140.9,491.4h1.4v1.1h-1.4zM139.7,483.2h1.4v1.1h-1.4zM141.3,479.1h1.4v1.1h-1.4zM140.7,484.7h1.4v1.1h-1.4zM141.4,477.9h1.4v1.1h-1.4zM141.8,483.4h1.4v1.1h-1.4zM142.3,483.8h1.4v1.1h-1.4zM142.0,490.3h1.4v1.1h-1.4zM141.5,479.9h1.4v1.1h-1.4zM141.9,484.7h1.4v1.1h-1.4zM143.2,482.3h1.4v1.1h-1.4zM142.8,481.0h1.4v1.1h-1.4zM143.4,488.3h1.4v1.1h-1.4zM144.0,486.5h1.4v1.1h-1.4zM144.2,475.0h1.4v1.1h-1.4zM144.3,478.0h1.4v1.1h-1.4zM145.2,483.9h1.4v1.1h-1.4zM144.4,480.8h1.4v1.1h-1.4zM145.0,484.1h1.4v1.1h-1.4zM146.3,473.3h1.4v1.1h-1.4zM145.4,486.7h1.4v1.1h-1.4z" fill="#f26a22" fill-opacity="0.85"/>
<path d="M31.78,427.70 L32.32,427.70 L32.86,427.70 L33.39,427.70 L33.93,427.70 L34.46,427.70 L35.00,427.70 L35.54,427.70 L36.07,427.70 L36.61,427.70 L37.14,427.70 L37.68,427.70 L38.22,427.70 L38.75,427.70 L39.29,427.70 L39.82,427.70 L40.36,427.70 L40.90,427.70 L41.43,427.70 L41.97,427.70 L42.50,427.70 L43.04,427.70 L43.58,427.70 L44.11,427.70 L44.65,427.70 L45.18,427.70 L45.72,427.70 L46.26,427.70 L46.79,427.70 L47.33,427.70 L47.86,427.70 L48.40,427.70 L48.94,427.70 L49.47,427.70 L50.01,427.70 L50.54,427.70 L51.08,427.70 L51.62,427.71 L52.15,427.71 L52.69,427.71 L53.22,427.71 L53.76,427.71 L54.30,427.71 L54.83,427.71 L55.37,427.71 L55.90,427.72 L56.44,427.72 L56.98,427.72 L57.51,427.72 L58.05,427.73 L58.58,427.73 L59.12,427.74 L59.66,427.74 L60.19,427.75 L60.73,427.75 L61.26,427.76 L61.80,427.77 L62.34,427.78 L62.87,427.79 L63.41,427.81 L63.94,427.82 L64.48,427.84 L65.02,427.86 L65.55,427.88 L66.09,427.90 L66.62,427.93 L67.16,427.97 L67.70,428.01 L68.23,428.05 L68.77,428.10 L69.30,428.15 L69.84,428.22 L70.38,428.29 L70.91,428.37 L71.45,428.47 L71.98,428.58 L72.52,428.70 L73.06,428.84 L73.59,429.00 L74.13,429.18 L74.66,429.38 L75.20,429.62 L75.74,429.88 L76.27,430.18 L76.81,430.51 L77.34,430.89 L77.88,431.31 L78.42,431.79 L78.95,432.33 L79.49,432.92 L80.02,433.59 L80.56,434.33 L81.10,435.15 L81.63,436.05 L82.17,437.04 L82.70,438.13 L83.24,439.30 L83.78,440.58 L84.31,441.94 L84.85,443.40 L85.38,444.94 L85.92,446.57 L86.46,448.27 L86.99,450.02 L87.53,451.82 L88.06,453.66 L88.60,455.51 L89.14,457.36 L89.67,459.20 L90.21,461.00 L90.74,462.76 L91.28,464.45 L91.82,466.08 L92.35,467.62 L92.89,469.08 L93.42,470.45 L93.96,471.72 L94.50,472.90 L95.03,473.98 L95.57,474.97 L96.10,475.87 L96.64,476.69 L97.18,477.43 L97.71,478.10 L98.25,478.70 L98.78,479.23 L99.32,479.71 L99.86,480.13 L100.39,480.51 L100.93,480.85 L101.46,481.14 L102.00,481.41 L102.54,481.64 L103.07,481.84 L103.61,482.02 L104.14,482.18 L104.68,482.32 L105.22,482.44 L105.75,482.55 L106.29,482.65 L106.82,482.73 L107.36,482.80 L107.90,482.87 L108.43,482.92 L108.97,482.97 L109.50,483.02 L110.04,483.05 L110.58,483.09 L111.11,483.12 L111.65,483.14 L112.18,483.16 L112.72,483.18 L113.26,483.20 L113.79,483.22 L114.33,483.23 L114.86,483.24 L115.40,483.25 L115.94,483.26 L116.47,483.27 L117.01,483.27 L117.54,483.28 L118.08,483.29 L118.62,483.29 L119.15,483.29 L119.69,483.30 L120.22,483.30 L120.76,483.30 L121.30,483.31 L121.83,483.31 L122.37,483.31 L122.90,483.31 L123.44,483.31 L123.98,483.31 L124.51,483.31 L125.05,483.32 L125.58,483.32 L126.12,483.32 L126.66,483.32 L127.19,483.32 L127.73,483.32 L128.26,483.32 L128.80,483.32 L129.34,483.32 L129.87,483.32 L130.41,483.32 L130.94,483.32 L131.48,483.32 L132.02,483.32 L132.55,483.32 L133.09,483.32 L133.62,483.32 L134.16,483.32 L134.70,483.32 L135.23,483.32 L135.77,483.32 L136.30,483.32 L136.84,483.32 L137.38,483.32 L137.91,483.32 L138.45,483.32 L138.98,483.32 L139.52,483.32 L140.06,483.32 L140.59,483.32 L141.13,483.32 L141.66,483.32 L142.20,483.32 L142.74,483.32 L143.27,483.32 L143.81,483.32 L144.34,483.32 L144.88,483.32 L145.42,483.32" fill="none" stroke="#2a2a2a" stroke-width="1.1" stroke-dasharray="3.6,2.2"/>
<rect x="31.3" y="396.6" width="116.10000000000001" height="113.29999999999995" fill="none" stroke="#1a1a1a" stroke-width="1"/>
<line x1="31.3" y1="427.7" x2="34.3" y2="427.7" stroke="#1a1a1a" stroke-width="0.8" />
<text x="28.2" y="431.0" font-size="9.1" fill="#222" text-anchor="end" font-weight="normal" stroke="#222" stroke-width="0.22"  style="">80</text>
<line x1="31.3" y1="448.0" x2="34.3" y2="448.0" stroke="#1a1a1a" stroke-width="0.8" />
<text x="28.2" y="451.3" font-size="9.1" fill="#222" text-anchor="end" font-weight="normal" stroke="#222" stroke-width="0.22"  style="">75</text>
<line x1="31.3" y1="468.29999999999995" x2="34.3" y2="468.29999999999995" stroke="#1a1a1a" stroke-width="0.8" />
<text x="28.2" y="471.59999999999997" font-size="9.1" fill="#222" text-anchor="end" font-weight="normal" stroke="#222" stroke-width="0.22"  style="">70</text>
<line x1="31.3" y1="488.59999999999997" x2="34.3" y2="488.59999999999997" stroke="#1a1a1a" stroke-width="0.8" />
<text x="28.2" y="491.9" font-size="9.1" fill="#222" text-anchor="end" font-weight="normal" stroke="#222" stroke-width="0.22"  style="">65</text>
<line x1="34.99999999999999" y1="509.9" x2="34.99999999999999" y2="506.9" stroke="#1a1a1a" stroke-width="0.8" />
<text x="35.4" y="519.6" font-size="9.1" fill="#222" text-anchor="middle" font-weight="normal" stroke="#222" stroke-width="0.22"  style="">-200</text>
<line x1="61.8" y1="509.9" x2="61.8" y2="506.9" stroke="#1a1a1a" stroke-width="0.8" />
<text x="61.4" y="519.6" font-size="9.1" fill="#222" text-anchor="middle" font-weight="normal" stroke="#222" stroke-width="0.22"  style="">-100</text>
<line x1="88.6" y1="509.9" x2="88.6" y2="506.9" stroke="#1a1a1a" stroke-width="0.8" />
<text x="88.4" y="519.6" font-size="9.1" fill="#222" text-anchor="middle" font-weight="normal" stroke="#222" stroke-width="0.22"  style="">0</text>
<line x1="115.39999999999999" y1="509.9" x2="115.39999999999999" y2="506.9" stroke="#1a1a1a" stroke-width="0.8" />
<text x="115.9" y="519.6" font-size="9.1" fill="#222" text-anchor="middle" font-weight="normal" stroke="#222" stroke-width="0.22"  style="">100</text>
<line x1="142.2" y1="509.9" x2="142.2" y2="506.9" stroke="#1a1a1a" stroke-width="0.8" />
<text x="142.6" y="519.6" font-size="9.1" fill="#222" text-anchor="middle" font-weight="normal" stroke="#222" stroke-width="0.22"  style="">200</text>
<text x="87.7" y="527.6" font-size="9.8" fill="#222" text-anchor="middle" font-weight="normal" stroke="#222" stroke-width="0.22"  style="">time delay (fs)</text>
<text transform="translate(9.4,456.6) rotate(-90)" font-size="9.8" fill="#222" text-anchor="middle" font-weight="normal" stroke="#222" stroke-width="0.22" textLength="63.5" lengthAdjust="spacingAndGlyphs">Photons(ms<tspan font-size="6" dy="-3.5">-1</tspan><tspan dy="3.5">)</tspan></text>
<line x1="60.1" y1="414.0" x2="60.1" y2="419.6" stroke="#22a022" stroke-width="1.1" />
<path d="M60.10,422.60 L58.20,419.00 L62.00,419.00 Z" fill="#22a022"/>
<line x1="90.3" y1="417.2" x2="90.3" y2="421.2" stroke="#22a022" stroke-width="1.1" />
<path d="M90.30,424.20 L88.40,420.60 L92.20,420.60 Z" fill="#22a022"/>
<line x1="95.5" y1="414.5" x2="95.5" y2="418.5" stroke="#22a022" stroke-width="1.1" />
<path d="M95.50,421.50 L93.60,417.90 L97.40,417.90 Z" fill="#22a022"/>
<line x1="108.7" y1="417.2" x2="108.7" y2="421.6" stroke="#22a022" stroke-width="1.1" />
<path d="M108.70,424.60 L106.80,421.00 L110.60,421.00 Z" fill="#22a022"/>
<path d="M111.7,428.2 L116.8,428.2 L116.8,469 L118.9,469 L114.25,479.4 L109.6,469 L111.7,469 Z" fill="#f9c07a"/>
<text transform="translate(127.6,452.7) rotate(-90)" font-size="9.4" fill="#222" text-anchor="middle" font-weight="normal" stroke="#222" stroke-width="0.22" textLength="42" lengthAdjust="spacingAndGlyphs">depletion</text>
<linearGradient id="tg407" gradientUnits="userSpaceOnUse" x1="156.7" y1="0" x2="288.3" y2="0"><stop offset="0" stop-color="#3646a4"/><stop offset="0.329" stop-color="#3646a4"/><stop offset="0.495" stop-color="#3646a4" stop-opacity="0.5"/><stop offset="0.663" stop-color="#3646a4"/><stop offset="1" stop-color="#3646a4"/></linearGradient>
<path d="M157.20,403.89 L157.90,403.98 L158.60,406.76 L159.30,409.98 L160.00,411.68 L160.70,412.75 L161.40,413.08 L162.10,413.35 L162.80,413.46 L163.50,410.86 L164.20,408.82 L164.90,409.78 L165.60,411.11 L166.30,409.99 L167.00,409.09 L167.70,410.52 L168.40,411.32 L169.10,410.05 L169.80,409.91 L170.50,411.65 L171.20,412.39 L171.90,410.89 L172.60,408.90 L173.30,408.60 L174.00,407.91 L174.70,407.42 L175.40,409.38 L176.10,410.35 L176.80,411.41 L177.50,412.92 L178.20,410.96 L178.90,408.46 L179.60,408.88 L180.30,410.45 L181.00,410.48 L181.70,408.39 L182.40,406.13 L183.10,405.17 L183.80,404.98 L184.50,405.64 L185.20,407.07 L185.90,407.95 L186.60,408.03 L187.30,407.40 L188.00,407.59 L188.70,409.11 L189.40,411.06 L190.10,412.06 L190.80,411.27 L191.50,410.94 L192.20,410.35 L192.90,410.03 L193.60,411.08 L194.30,410.00 L195.00,408.52 L195.70,410.51 L196.40,411.85 L197.10,411.73 L197.80,412.27 L198.50,410.61 L199.20,408.55 L199.90,408.21 L200.60,406.41 L201.30,403.44 L202.00,403.03 L202.70,405.39 L203.40,407.29 L204.10,408.28 L204.80,407.48 L205.50,405.86 L206.20,406.87 L206.90,410.23 L207.60,411.67 L208.30,409.78 L209.00,406.45 L209.70,404.29 L210.40,405.07 L211.10,407.38 L211.80,408.36 L212.50,407.94 L213.20,407.04 L213.90,405.77 L214.60,404.48 L215.30,405.16 L216.00,407.88 L216.70,410.38 L217.40,410.74 L218.10,409.10 L218.80,407.12 L219.50,406.00 L220.20,406.23 L220.90,408.42 L221.60,411.29 L222.30,412.04 L223.00,410.00 L223.70,406.50 L224.40,405.12 L225.10,406.92 L225.80,409.46 L226.50,409.85 L227.20,407.67 L227.90,405.29 L228.60,404.80 L229.30,406.14 L230.00,409.29 L230.70,412.68 L231.40,413.04 L232.10,410.65 L232.80,407.87 L233.50,406.87 L234.20,407.40 L234.90,408.85 L235.60,410.30 L236.30,410.14 L237.00,408.46 L237.70,406.06 L238.40,404.27 L239.10,405.09 L239.80,406.69 L240.50,406.37 L241.20,405.55 L241.90,405.13 L242.60,404.28 L243.30,404.93 L244.00,406.72 L244.70,407.88 L245.40,409.06 L246.10,409.29 L246.80,408.78 L247.50,406.49 L248.20,403.15 L248.90,402.48 L249.60,402.99 L250.30,404.48 L251.00,407.16 L251.70,409.30 L252.40,410.03 L253.10,409.84 L253.80,408.07 L254.50,407.25 L255.20,408.14 L255.90,408.58 L256.60,407.03 L257.30,405.07 L258.00,404.06 L258.70,404.96 L259.40,407.97 L260.10,409.30 L260.80,408.46 L261.50,406.97 L262.20,405.78 L262.90,406.30 L263.60,407.06 L264.30,406.38 L265.00,407.76 L265.70,411.59 L266.40,412.95 L267.10,411.49 L267.80,410.43 L268.50,410.57 L269.20,410.34 L269.90,408.62 L270.60,408.06 L271.30,409.14 L272.00,409.16 L272.70,407.09 L273.40,405.01 L274.10,403.20 L274.80,401.99 L275.50,402.32 L276.20,403.90 L276.90,404.36 L277.60,402.74 L278.30,401.92 L279.00,403.12 L279.70,404.96 L280.40,405.08 L281.10,404.00 L281.80,404.21 L282.50,404.96 L283.20,405.47 L283.90,404.34 L284.60,403.53 L285.30,404.46 L286.00,405.46 L286.70,406.04 L287.40,407.41" fill="none" stroke="url(#tg407)" stroke-width="0.95" stroke-linejoin="round"/>
<linearGradient id="tg425" gradientUnits="userSpaceOnUse" x1="156.7" y1="0" x2="288.3" y2="0"><stop offset="0" stop-color="#e08a52"/><stop offset="0.329" stop-color="#e08a52"/><stop offset="0.495" stop-color="#e08a52" stop-opacity="0.5"/><stop offset="0.663" stop-color="#e08a52"/><stop offset="1" stop-color="#e08a52"/></linearGradient>
<path d="M157.20,426.70 L157.90,425.61 L158.60,424.42 L159.30,423.79 L160.00,423.27 L160.70,422.23 L161.40,420.01 L162.10,420.04 L162.80,422.24 L163.50,422.30 L164.20,422.07 L164.90,422.25 L165.60,421.09 L166.30,420.09 L167.00,420.47 L167.70,421.46 L168.40,422.60 L169.10,422.77 L169.80,423.03 L170.50,422.52 L171.20,420.29 L171.90,420.81 L172.60,424.74 L173.30,426.87 L174.00,425.77 L174.70,425.51 L175.40,427.46 L176.10,428.34 L176.80,426.66 L177.50,424.05 L178.20,423.56 L178.90,423.86 L179.60,425.36 L180.30,428.36 L181.00,429.57 L181.70,428.98 L182.40,430.03 L183.10,432.20 L183.80,432.22 L184.50,431.17 L185.20,430.66 L185.90,429.18 L186.60,427.41 L187.30,427.97 L188.00,429.60 L188.70,429.08 L189.40,426.57 L190.10,425.12 L190.80,424.77 L191.50,425.74 L192.20,428.47 L192.90,429.55 L193.60,427.11 L194.30,423.36 L195.00,424.02 L195.70,425.77 L196.40,423.33 L197.10,422.27 L197.80,425.54 L198.50,428.17 L199.20,427.15 L199.90,426.00 L200.60,427.57 L201.30,429.03 L202.00,428.87 L202.70,428.29 L203.40,428.48 L204.10,429.90 L204.80,431.79 L205.50,431.95 L206.20,428.88 L206.90,424.71 L207.60,422.14 L208.30,422.26 L209.00,425.43 L209.70,427.52 L210.40,427.76 L211.10,426.34 L211.80,422.96 L212.50,419.72 L213.20,420.74 L213.90,426.46 L214.60,432.68 L215.30,433.47 L216.00,426.36 L216.70,417.53 L217.40,414.93 L218.10,420.25 L218.80,429.59 L219.50,435.86 L220.20,433.16 L220.90,422.95 L221.60,414.17 L222.30,414.42 L223.00,422.95 L223.70,432.97 L224.40,435.62 L225.10,428.62 L225.80,418.48 L226.50,414.00 L227.20,419.12 L227.90,428.52 L228.60,433.92 L229.30,431.88 L230.00,424.04 L230.70,417.24 L231.40,417.98 L232.10,423.86 L232.80,428.90 L233.50,430.63 L234.20,427.56 L234.90,422.40 L235.60,421.21 L236.30,424.20 L237.00,426.93 L237.70,427.89 L238.40,427.94 L239.10,426.21 L239.80,424.88 L240.50,425.64 L241.20,426.45 L241.90,427.05 L242.60,427.65 L243.30,427.41 L244.00,425.83 L244.70,422.82 L245.40,422.29 L246.10,425.73 L246.80,427.56 L247.50,426.59 L248.20,425.08 L248.90,424.08 L249.60,423.37 L250.30,423.35 L251.00,424.33 L251.70,423.77 L252.40,422.57 L253.10,422.76 L253.80,423.17 L254.50,424.42 L255.20,427.19 L255.90,428.19 L256.60,425.87 L257.30,425.52 L258.00,427.00 L258.70,428.09 L259.40,428.02 L260.10,426.09 L260.80,424.69 L261.50,424.11 L262.20,424.22 L262.90,425.14 L263.60,425.34 L264.30,426.75 L265.00,427.26 L265.70,425.45 L266.40,425.04 L267.10,426.95 L267.80,428.52 L268.50,426.59 L269.20,424.98 L269.90,426.86 L270.60,426.10 L271.30,421.86 L272.00,422.54 L272.70,427.40 L273.40,426.85 L274.10,424.89 L274.80,427.16 L275.50,427.32 L276.20,425.28 L276.90,426.81 L277.60,427.61 L278.30,425.64 L279.00,424.07 L279.70,423.60 L280.40,422.99 L281.10,422.82 L281.80,422.57 L282.50,422.92 L283.20,424.67 L283.90,426.21 L284.60,426.53 L285.30,426.50 L286.00,425.49 L286.70,423.11 L287.40,423.04" fill="none" stroke="url(#tg425)" stroke-width="0.95" stroke-linejoin="round"/>
<linearGradient id="tg444" gradientUnits="userSpaceOnUse" x1="156.7" y1="0" x2="288.3" y2="0"><stop offset="0" stop-color="#3646a4"/><stop offset="0.329" stop-color="#3646a4"/><stop offset="0.495" stop-color="#3646a4" stop-opacity="0.5"/><stop offset="0.663" stop-color="#3646a4"/><stop offset="1" stop-color="#3646a4"/></linearGradient>
<path d="M157.20,445.14 L157.90,443.15 L158.60,442.63 L159.30,444.08 L160.00,444.46 L160.70,442.54 L161.40,440.05 L162.10,439.55 L162.80,441.39 L163.50,443.34 L164.20,444.18 L164.90,443.92 L165.60,442.74 L166.30,440.14 L167.00,439.76 L167.70,441.88 L168.40,441.86 L169.10,440.81 L169.80,440.35 L170.50,439.80 L171.20,439.61 L171.90,440.00 L172.60,441.21 L173.30,442.02 L174.00,442.79 L174.70,443.51 L175.40,442.85 L176.10,441.71 L176.80,442.45 L177.50,442.77 L178.20,442.58 L178.90,444.21 L179.60,446.76 L180.30,448.94 L181.00,449.56 L181.70,448.05 L182.40,448.07 L183.10,448.42 L183.80,445.74 L184.50,443.37 L185.20,443.10 L185.90,443.67 L186.60,444.44 L187.30,444.18 L188.00,442.66 L188.70,441.91 L189.40,442.02 L190.10,441.65 L190.80,442.36 L191.50,443.70 L192.20,443.04 L192.90,440.85 L193.60,439.44 L194.30,439.44 L195.00,440.87 L195.70,443.63 L196.40,445.10 L197.10,444.70 L197.80,443.91 L198.50,443.51 L199.20,443.76 L199.90,443.41 L200.60,441.92 L201.30,440.33 L202.00,440.91 L202.70,443.82 L203.40,445.28 L204.10,444.07 L204.80,442.54 L205.50,441.46 L206.20,440.77 L206.90,441.27 L207.60,443.77 L208.30,445.32 L209.00,443.41 L209.70,439.97 L210.40,438.53 L211.10,441.85 L211.80,449.47 L212.50,454.55 L213.20,452.75 L213.90,445.18 L214.60,437.65 L215.30,436.61 L216.00,443.80 L216.70,453.54 L217.40,457.30 L218.10,451.30 L218.80,440.02 L219.50,432.79 L220.20,436.50 L220.90,448.15 L221.60,457.36 L222.30,456.84 L223.00,446.80 L223.70,435.22 L224.40,432.25 L225.10,439.84 L225.80,450.93 L226.50,456.03 L227.20,450.77 L227.90,440.04 L228.60,433.18 L229.30,435.44 L230.00,442.64 L230.70,448.01 L231.40,447.89 L232.10,443.10 L232.80,438.01 L233.50,435.87 L234.20,438.82 L234.90,443.08 L235.60,444.76 L236.30,443.90 L237.00,441.56 L237.70,438.68 L238.40,439.03 L239.10,442.31 L239.80,444.91 L240.50,444.94 L241.20,442.04 L241.90,440.39 L242.60,442.91 L243.30,445.86 L244.00,446.15 L244.70,445.98 L245.40,447.22 L246.10,447.06 L246.80,445.80 L247.50,445.77 L248.20,446.29 L248.90,447.20 L249.60,448.37 L250.30,448.41 L251.00,446.71 L251.70,443.55 L252.40,440.90 L253.10,442.08 L253.80,444.25 L254.50,444.67 L255.20,445.00 L255.90,445.15 L256.60,445.49 L257.30,446.77 L258.00,448.02 L258.70,447.25 L259.40,445.04 L260.10,443.73 L260.80,444.15 L261.50,445.13 L262.20,446.11 L262.90,445.20 L263.60,444.26 L264.30,444.29 L265.00,444.87 L265.70,446.31 L266.40,446.43 L267.10,445.51 L267.80,446.94 L268.50,450.00 L269.20,450.51 L269.90,449.10 L270.60,448.50 L271.30,447.95 L272.00,445.72 L272.70,443.80 L273.40,442.48 L274.10,441.40 L274.80,442.81 L275.50,445.10 L276.20,443.71 L276.90,441.03 L277.60,440.14 L278.30,439.97 L279.00,439.79 L279.70,438.80 L280.40,436.75 L281.10,436.48 L281.80,438.47 L282.50,439.42 L283.20,439.37 L283.90,440.19 L284.60,441.28 L285.30,442.48 L286.00,444.15 L286.70,446.49 L287.40,447.56" fill="none" stroke="url(#tg444)" stroke-width="0.95" stroke-linejoin="round"/>
<linearGradient id="tg463" gradientUnits="userSpaceOnUse" x1="156.7" y1="0" x2="288.3" y2="0"><stop offset="0" stop-color="#e08a52"/><stop offset="0.329" stop-color="#e08a52"/><stop offset="0.495" stop-color="#e08a52" stop-opacity="0.5"/><stop offset="0.663" stop-color="#e08a52"/><stop offset="1" stop-color="#e08a52"/></linearGradient>
<path d="M157.20,464.75 L157.90,466.15 L158.60,463.96 L159.30,463.12 L160.00,463.48 L160.70,463.84 L161.40,466.24 L162.10,466.89 L162.80,464.78 L163.50,465.30 L164.20,467.52 L164.90,466.88 L165.60,465.12 L166.30,463.03 L167.00,462.61 L167.70,465.83 L168.40,467.06 L169.10,464.48 L169.80,463.50 L170.50,463.87 L171.20,462.07 L171.90,460.49 L172.60,459.40 L173.30,458.92 L174.00,458.56 L174.70,457.97 L175.40,459.90 L176.10,462.46 L176.80,463.21 L177.50,465.41 L178.20,468.96 L178.90,468.56 L179.60,466.73 L180.30,467.04 L181.00,467.03 L181.70,466.24 L182.40,465.34 L183.10,464.09 L183.80,464.73 L184.50,466.81 L185.20,466.96 L185.90,464.75 L186.60,460.94 L187.30,459.65 L188.00,461.03 L188.70,462.98 L189.40,464.60 L190.10,465.68 L190.80,465.38 L191.50,464.68 L192.20,464.85 L192.90,464.30 L193.60,461.19 L194.30,458.20 L195.00,459.68 L195.70,462.67 L196.40,464.40 L197.10,465.16 L197.80,464.00 L198.50,462.67 L199.20,462.76 L199.90,465.51 L200.60,469.69 L201.30,471.94 L202.00,471.11 L202.70,468.36 L203.40,465.28 L204.10,464.69 L204.80,467.46 L205.50,470.09 L206.20,470.64 L206.90,468.48 L207.60,464.87 L208.30,463.18 L209.00,466.35 L209.70,472.12 L210.40,475.18 L211.10,471.24 L211.80,462.64 L212.50,456.58 L213.20,458.30 L213.90,465.20 L214.60,472.25 L215.30,474.11 L216.00,467.19 L216.70,456.96 L217.40,452.90 L218.10,458.59 L218.80,469.71 L219.50,476.43 L220.20,472.23 L220.90,460.40 L221.60,450.77 L222.30,451.95 L223.00,462.73 L223.70,473.50 L224.40,475.82 L225.10,468.16 L225.80,456.94 L226.50,452.20 L227.20,457.64 L227.90,468.19 L228.60,474.61 L229.30,471.00 L230.00,461.38 L230.70,454.48 L231.40,454.50 L232.10,460.43 L232.80,467.67 L233.50,470.56 L234.20,467.31 L234.90,461.62 L235.60,458.61 L236.30,459.68 L237.00,462.30 L237.70,464.20 L238.40,464.59 L239.10,462.56 L239.80,459.63 L240.50,459.43 L241.20,460.79 L241.90,461.58 L242.60,462.68 L243.30,463.25 L244.00,462.24 L244.70,460.64 L245.40,462.30 L246.10,466.77 L246.80,469.08 L247.50,468.28 L248.20,466.61 L248.90,465.27 L249.60,465.67 L250.30,465.98 L251.00,464.80 L251.70,463.38 L252.40,464.36 L253.10,466.36 L253.80,466.99 L254.50,466.28 L255.20,466.08 L255.90,466.63 L256.60,464.86 L257.30,460.11 L258.00,458.43 L258.70,462.14 L259.40,466.62 L260.10,467.58 L260.80,464.90 L261.50,462.32 L262.20,462.05 L262.90,462.49 L263.60,463.39 L264.30,464.25 L265.00,464.39 L265.70,463.50 L266.40,463.24 L267.10,462.66 L267.80,462.44 L268.50,460.91 L269.20,457.68 L269.90,456.65 L270.60,458.54 L271.30,460.08 L272.00,461.29 L272.70,463.07 L273.40,463.82 L274.10,462.92 L274.80,461.52 L275.50,461.94 L276.20,464.02 L276.90,466.35 L277.60,466.50 L278.30,464.22 L279.00,461.92 L279.70,462.31 L280.40,466.04 L281.10,467.50 L281.80,466.71 L282.50,465.37 L283.20,462.78 L283.90,460.25 L284.60,460.00 L285.30,460.95 L286.00,461.40 L286.70,461.73 L287.40,463.26" fill="none" stroke="url(#tg463)" stroke-width="0.95" stroke-linejoin="round"/>
<linearGradient id="tg483" gradientUnits="userSpaceOnUse" x1="156.7" y1="0" x2="288.3" y2="0"><stop offset="0" stop-color="#3646a4"/><stop offset="0.329" stop-color="#3646a4"/><stop offset="0.495" stop-color="#3646a4" stop-opacity="0.5"/><stop offset="0.663" stop-color="#3646a4"/><stop offset="1" stop-color="#3646a4"/></linearGradient>
<path d="M157.20,481.02 L157.90,481.27 L158.60,481.74 L159.30,480.71 L160.00,480.55 L160.70,481.56 L161.40,482.58 L162.10,482.99 L162.80,482.98 L163.50,484.71 L164.20,486.10 L164.90,486.29 L165.60,485.33 L166.30,482.00 L167.00,479.36 L167.70,476.77 L168.40,474.66 L169.10,476.57 L169.80,479.86 L170.50,479.47 L171.20,478.54 L171.90,479.81 L172.60,480.45 L173.30,481.16 L174.00,482.63 L174.70,482.48 L175.40,481.05 L176.10,484.45 L176.80,488.29 L177.50,486.37 L178.20,483.73 L178.90,483.39 L179.60,484.08 L180.30,483.98 L181.00,482.43 L181.70,480.73 L182.40,481.29 L183.10,482.60 L183.80,483.27 L184.50,484.50 L185.20,486.00 L185.90,486.12 L186.60,484.84 L187.30,483.45 L188.00,482.26 L188.70,482.26 L189.40,482.61 L190.10,482.50 L190.80,482.83 L191.50,481.95 L192.20,481.27 L192.90,481.13 L193.60,481.83 L194.30,482.65 L195.00,482.94 L195.70,483.50 L196.40,483.00 L197.10,483.67 L197.80,484.58 L198.50,485.68 L199.20,487.48 L199.90,487.47 L200.60,484.36 L201.30,481.83 L202.00,483.08 L202.70,485.50 L203.40,486.33 L204.10,486.19 L204.80,483.14 L205.50,478.19 L206.20,477.51 L206.90,481.76 L207.60,486.45 L208.30,487.85 L209.00,483.28 L209.70,474.54 L210.40,468.52 L211.10,472.51 L211.80,484.22 L212.50,492.61 L213.20,491.10 L213.90,480.22 L214.60,467.85 L215.30,465.73 L216.00,477.39 L216.70,494.06 L217.40,501.42 L218.10,492.31 L218.80,473.77 L219.50,462.02 L220.20,468.16 L220.90,486.74 L221.60,501.35 L222.30,499.85 L223.00,483.83 L223.70,466.73 L224.40,463.07 L225.10,476.24 L225.80,493.93 L226.50,500.49 L227.20,491.48 L227.90,475.49 L228.60,465.67 L229.30,469.78 L230.00,484.33 L230.70,496.87 L231.40,497.17 L232.10,487.18 L232.80,476.69 L233.50,473.80 L234.20,478.92 L234.90,487.88 L235.60,493.92 L236.30,492.37 L237.00,485.26 L237.70,479.70 L238.40,479.31 L239.10,483.20 L239.80,488.81 L240.50,491.23 L241.20,488.47 L241.90,484.32 L242.60,482.48 L243.30,484.28 L244.00,488.00 L244.70,489.64 L245.40,488.89 L246.10,487.39 L246.80,487.81 L247.50,488.36 L248.20,487.92 L248.90,489.79 L249.60,493.64 L250.30,494.17 L251.00,491.36 L251.70,489.25 L252.40,490.07 L253.10,491.11 L253.80,490.51 L254.50,487.67 L255.20,484.40 L255.90,481.53 L256.60,479.56 L257.30,479.78 L258.00,482.28 L258.70,485.69 L259.40,488.59 L260.10,487.63 L260.80,482.34 L261.50,479.16 L262.20,480.96 L262.90,482.27 L263.60,480.90 L264.30,479.60 L265.00,480.26 L265.70,481.64 L266.40,481.07 L267.10,479.55 L267.80,479.57 L268.50,479.65 L269.20,480.14 L269.90,481.13 L270.60,481.14 L271.30,479.99 L272.00,479.17 L272.70,481.24 L273.40,482.36 L274.10,480.82 L274.80,478.71 L275.50,478.01 L276.20,480.83 L276.90,484.87 L277.60,485.15 L278.30,483.02 L279.00,481.27 L279.70,480.45 L280.40,481.19 L281.10,483.60 L281.80,484.49 L282.50,483.53 L283.20,483.51 L283.90,483.48 L284.60,483.10 L285.30,483.47 L286.00,485.74 L286.70,486.53 L287.40,484.42" fill="none" stroke="url(#tg483)" stroke-width="0.95" stroke-linejoin="round"/>
<rect x="156.7" y="396.6" width="131.60000000000002" height="113.59999999999997" fill="none" stroke="#1a1a1a" stroke-width="1"/>
<line x1="158.22" y1="510.2" x2="158.22" y2="507.2" stroke="#1a1a1a" stroke-width="0.8" />
<text x="164.0" y="519.6" font-size="9.1" fill="#222" text-anchor="middle" font-weight="normal" stroke="#222" stroke-width="0.22"  style="">-60</text>
<line x1="190.11" y1="510.2" x2="190.11" y2="507.2" stroke="#1a1a1a" stroke-width="0.8" />
<text x="190.8" y="519.6" font-size="9.1" fill="#222" text-anchor="middle" font-weight="normal" stroke="#222" stroke-width="0.22"  style="">-30</text>
<line x1="222.0" y1="510.2" x2="222.0" y2="507.2" stroke="#1a1a1a" stroke-width="0.8" />
<text x="222.0" y="519.6" font-size="9.1" fill="#222" text-anchor="middle" font-weight="normal" stroke="#222" stroke-width="0.22"  style="">0</text>
<line x1="253.89" y1="510.2" x2="253.89" y2="507.2" stroke="#1a1a1a" stroke-width="0.8" />
<text x="254.5" y="519.6" font-size="9.1" fill="#222" text-anchor="middle" font-weight="normal" stroke="#222" stroke-width="0.22"  style="">30</text>
<line x1="285.78" y1="510.2" x2="285.78" y2="507.2" stroke="#1a1a1a" stroke-width="0.8" />
<text x="285.7" y="519.6" font-size="9.1" fill="#222" text-anchor="middle" font-weight="normal" stroke="#222" stroke-width="0.22"  style="">60</text>
<text x="232.6" y="528.7" font-size="9.37" fill="#222" text-anchor="middle" font-weight="normal" stroke="#222" stroke-width="0.22"  style="">spectral scan delay (fs)</text>
<text x="286.4" y="420.2" font-size="9.2" fill="#222" text-anchor="end" font-weight="normal" stroke="#222" stroke-width="0.22" textLength="23.4" lengthAdjust="spacingAndGlyphs" style="">-100 fs</text>
<text x="286.4" y="437.5" font-size="9.2" fill="#222" text-anchor="end" font-weight="normal" stroke="#222" stroke-width="0.22" textLength="15.4" lengthAdjust="spacingAndGlyphs" style="">5 fs</text>
<text x="286.4" y="457.8" font-size="9.2" fill="#222" text-anchor="end" font-weight="normal" stroke="#222" stroke-width="0.22" textLength="20.8" lengthAdjust="spacingAndGlyphs" style="">25 fs</text>
<text x="286.4" y="477.7" font-size="9.2" fill="#222" text-anchor="end" font-weight="normal" stroke="#222" stroke-width="0.22" textLength="20.8" lengthAdjust="spacingAndGlyphs" style="">76 fs</text>
<text x="286.4" y="499.6" font-size="9.2" fill="#222" text-anchor="end" font-weight="normal" stroke="#222" stroke-width="0.22" textLength="24.2" lengthAdjust="spacingAndGlyphs" style="">3.5 ps</text>
<text transform="translate(294.0,405.8) rotate(90)" font-size="9.3" fill="#222" text-anchor="start" font-weight="normal" stroke="#222" stroke-width="0.22" >Pump probe delay</text>
<line x1="296.4" y1="485.7" x2="296.4" y2="499" stroke="#222" stroke-width="0.8" />
<path d="M296.40,503.00 L294.80,499.00 L298.00,499.00 Z" fill="#111"/>
<line x1="161.1" y1="492.2" x2="161.1" y2="503.6" stroke="#111" stroke-width="1.3" />
<line x1="159.5" y1="492.2" x2="162.7" y2="492.2" stroke="#111" stroke-width="0.9" />
<line x1="159.5" y1="503.6" x2="162.7" y2="503.6" stroke="#111" stroke-width="0.9" />
<text x="165.0" y="500.9" font-size="8.6" fill="#222" text-anchor="start" font-weight="normal" stroke="#222" stroke-width="0.22"  style="">2 <tspan font-style="italic">hv</tspan></text>
</svg>
</body></html>
